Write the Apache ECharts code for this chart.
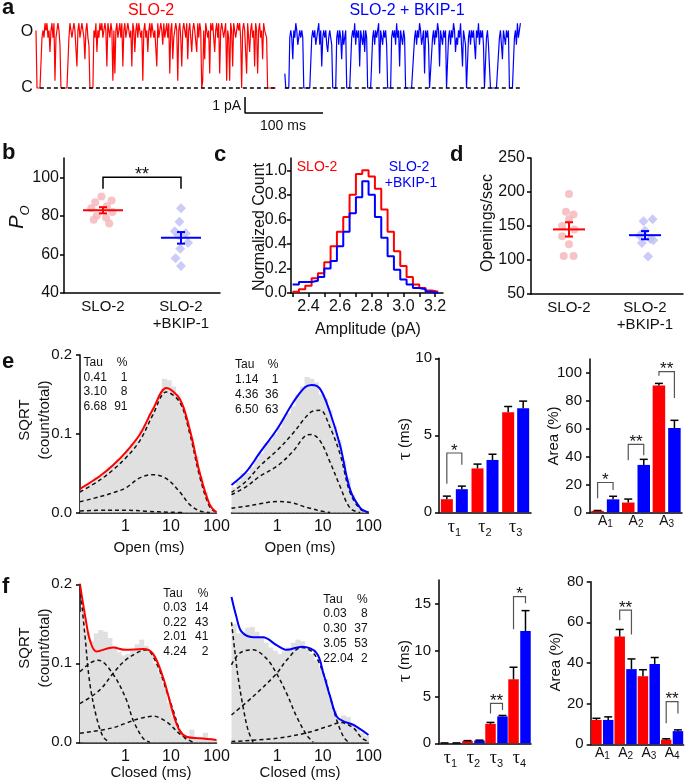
<!DOCTYPE html>
<html>
<head>
<meta charset="utf-8">
<title>SLO-2 / BKIP-1</title>
<script src="https://cdn.jsdelivr.net/npm/echarts@6.0.0/dist/echarts.min.js"></script>
<style>
  html, body { margin: 0; padding: 0; background: #fff; }
  #main { width: 685px; height: 783px; }
</style>
</head>
<body>
<div id="main"></div>
<script>
const FONT = 'Liberation Sans';
const RED = '#ff0000', BLUE = '#0000ff', GREY = '#e0e0e0';

// ---- a: single channel records, one digit per sample (0 = closed)
let redTrace = [
  '8000007879', '8978589791', '7898600000', '0007987898', '8389789874',
  '8976000087', '9587989789', '8398798182', '8978979389', '7898783985',
  '8979878189', '7858979878', '8397898697', '8979289478', '9818973898',
  '7948975898', '8597980184', '9878298975', '8979289878', '9187198398',
  '7898970898', '8297589783', '9828978498', '87000000000'
].join('');
let blueTrace = [
  '2000078748', '7986787870', '0000000787', '8678968378', '7865787600',
  '0078687486', '7800000787', '9687838768', '5870000078', '6878928768',
  '7860000787', '8697838768', '7000000000', '7868798678', '2878600078',
  '6879838768', '7800786879', '8576879638', '7600786878', '6487968786',
  '0078630000', '0000078648', '7687800000', '7869789'
].join('');
let pAPerLevel = 0.45;
let sampleMs = 1.28;
let traceStartMs = [0, 319];
let baselineMs = [[5, 308], [319, 624]];
let scaleBarMs = [268, 368];
let scaleBarPA = [-0.56, -1.56];

// ---- b: open probability
let groupLabels = ['SLO-2', 'SLO-2\n+BKIP-1'];
let poRed = [90, 88, 87, 85, 84, 82, 80, 79, 78, 76];
let poRedJit = [-0.02, 0.11, -0.10, 0.05, -0.15, 0.12, -0.08, 0.04, -0.12, 0.08];
let poBlue = [84, 77, 72, 71, 70, 66, 63, 58, 54];
let poBlueJit = [0, -0.02, -0.08, 0.06, -0.03, 0.09, -0.01, -0.07, 0];
let poMean = [82.9, 68.6];
let poSem = [1.6, 3.0];
let poSig = [1, 2, 94, 100, 94];
let poTicks = [40, 60, 80, 100];

// ---- c: amplitude histogram
let ampEdges = [2.30, 2.34, 2.38, 2.42, 2.46, 2.50, 2.54, 2.58, 2.62, 2.66, 2.70, 2.74,
  2.78, 2.82, 2.86, 2.90, 2.94, 2.98, 3.02, 3.06, 3.10, 3.14, 3.18, 3.22];
let ampRed = [0.01, 0.03, 0.06, 0.12, 0.16, 0.25, 0.38, 0.50, 0.62, 0.80, 0.97, 1.00,
  0.95, 0.85, 0.68, 0.50, 0.34, 0.22, 0.13, 0.07, 0.04, 0.02, 0.01];
let ampBlue = [0.07, 0.09, 0.09, 0.10, 0.13, 0.20, 0.26, 0.38, 0.50, 0.65, 0.78, 0.91,
  0.80, 0.62, 0.45, 0.30, 0.19, 0.11, 0.07, 0.04, 0.03, 0.01, 0.00];
let ampTicks = [2.3, 2.4, 2.5, 2.6, 2.7, 2.8, 2.9, 3.0, 3.1, 3.2];
let ampLabels = [2.4, 2.6, 2.8, 3.0, 3.2];
let countTicks = [0, 0.2, 0.4, 0.6, 0.8, 1.0];

// ---- d: openings per second
let opsRed = [197, 171, 167, 160, 150, 145, 135, 123, 106, 106];
let opsRedJit = [0, -0.04, 0.06, 0, -0.09, 0.07, -0.09, 0, -0.07, 0.06];
let opsBlue = [160, 157, 143, 136, 131, 129, 125, 105];
let opsBlueJit = [0.10, -0.02, 0, -0.07, 0.07, 0.11, -0.04, 0.04];
let opsMean = [145, 136.5];
let opsSem = [10.5, 6];

// ---- e, f: dwell time histograms (log bins, ms)
let logEdges = [0.1, 0.126, 0.158, 0.2, 0.251, 0.316, 0.398, 0.501, 0.631, 0.794,
  1, 1.26, 1.58, 2, 2.51, 3.16, 3.98, 5.01, 6.31, 7.94,
  10, 12.6, 15.8, 20, 25.1, 31.6, 39.8, 50.1, 63.1, 79.4, 100];
let eRedGray = [0.028, 0.036, 0.037, 0.045, 0.046, 0.052, 0.058, 0.060, 0.068, 0.072,
  0.080, 0.088, 0.092, 0.105, 0.112, 0.126, 0.133, 0.150, 0.170, 0.168,
  0.160, 0.150, 0.135, 0.118, 0.094, 0.072, 0.046, 0.026, 0.010, 0.003];
let eBlueGray = [0.032, 0.040, 0.050, 0.050, 0.058, 0.068, 0.075, 0.088, 0.092, 0.100,
  0.108, 0.120, 0.126, 0.135, 0.150, 0.160, 0.172, 0.170, 0.165, 0.150,
  0.145, 0.130, 0.110, 0.092, 0.066, 0.044, 0.022, 0.010, 0.004, 0.002];
let fRedGray = [0.165, 0.140, 0.128, 0.138, 0.142, 0.140, 0.132, 0.122, 0.114, 0.110,
  0.112, 0.116, 0.124, 0.130, 0.122, 0.112, 0.100, 0.088, 0.072, 0.050,
  0.032, 0.018, 0.010, 0.008, 0.016, 0.005, 0.004, 0.012, 0.003, 0.003];
let fBlueGray = [0.150, 0.138, 0.140, 0.145, 0.146, 0.140, 0.132, 0.126, 0.120, 0.116,
  0.112, 0.115, 0.120, 0.126, 0.130, 0.128, 0.120, 0.112, 0.104, 0.094,
  0.080, 0.058, 0.040, 0.030, 0.034, 0.032, 0.024, 0.018, 0.012, 0.008];

// fitted curves, [ms, sqrt(count/total)]
let eRedSum = [[0.1, 0.030], [0.27, 0.046], [0.53, 0.060], [1, 0.076], [2.06, 0.099], [4, 0.131],
  [7.9, 0.158], [15.6, 0.144], [25.9, 0.105], [43, 0.050], [71, 0.010], [100, 0]];
let eRedC3 = [[0.1, 0.026], [0.27, 0.041], [0.53, 0.054], [1, 0.069], [2.06, 0.091], [4, 0.124],
  [7.9, 0.153], [15.6, 0.140], [25.9, 0.100], [43, 0.045], [71, 0.007], [100, 0]];
let eRedC2 = [[0.1, 0.0136], [0.27, 0.020], [0.53, 0.025], [1, 0.031], [2.06, 0.044], [4, 0.048],
  [7.9, 0.043], [15.6, 0.026], [25.9, 0.010], [43, 0.002], [71, 0]];
let eRedC1 = [[0.1, 0.002], [0.4, 0.003], [1, 0.003], [3, 0.0015], [10, 0.0003], [20, 0]];

let eBlueSum = [[0.1, 0.035], [0.212, 0.052], [0.417, 0.076], [1, 0.106], [2.25, 0.140], [4.06, 0.159],
  [5.7, 0.162], [8.7, 0.157], [14.4, 0.127], [23.9, 0.085], [39.6, 0.029], [65.8, 0.006], [100, 0]];
let eBlueC3 = [[0.1, 0.0255], [0.212, 0.040], [0.417, 0.059], [1, 0.079], [2.25, 0.101], [4.06, 0.120],
  [5.7, 0.128], [8.7, 0.130], [14.4, 0.108], [23.9, 0.074], [39.6, 0.025], [65.8, 0.0045], [100, 0]];
let eBlueC2 = [[0.1, 0.0226], [0.212, 0.033], [0.417, 0.046], [1, 0.059], [2.25, 0.078], [4.06, 0.097],
  [5.7, 0.099], [8.7, 0.091], [14.4, 0.064], [23.9, 0.033], [39.6, 0.0055], [65.8, 0]];
let eBlueC1 = [[0.1, 0.0055], [0.212, 0.008], [0.417, 0.011], [1, 0.014], [2.25, 0.012], [4.06, 0.007],
  [5.7, 0.005], [8.7, 0.002], [14.4, 0]];

let fRedSum = [[0.1, 0.200], [0.134, 0.155], [0.164, 0.130], [0.23, 0.115], [0.53, 0.120], [1, 0.117],
  [2.44, 0.118], [4.04, 0.112], [6.7, 0.082], [9.4, 0.052], [12.1, 0.030], [15.6, 0.0145],
  [21.9, 0.007], [43, 0.005], [100, 0.003]];
let fRedC1 = [[0.1, 0.197], [0.127, 0.138], [0.164, 0.075], [0.23, 0.032], [0.322, 0.007], [0.45, 0]];
let fRedC2 = [[0.1, 0.0895], [0.164, 0.100], [0.25, 0.104], [0.53, 0.0865], [1.05, 0.0536], [1.47, 0.028],
  [2.44, 0.005], [3.42, 0]];
let fRedC3 = [[0.1, 0.049], [0.27, 0.066], [0.53, 0.087], [1, 0.104], [2.06, 0.115], [2.89, 0.117],
  [4.8, 0.100], [7.9, 0.066], [11.1, 0.041], [15.6, 0.0156], [21.9, 0.003]];
let fRedC4 = [[0.1, 0.0114], [0.5, 0.018], [1, 0.024], [2, 0.030], [4, 0.033], [8, 0.026], [16, 0.010], [30, 0]];

let fBlueSum = [[0.1, 0.184], [0.128, 0.159], [0.166, 0.140], [0.297, 0.133], [0.49, 0.133], [0.97, 0.123],
  [1.61, 0.117], [3.44, 0.121], [7.3, 0.113], [10.3, 0.087], [14.4, 0.058], [20.2, 0.0325],
  [28.3, 0.0266], [46.8, 0.022], [100, 0.0093]];
let fBlueC1 = [[0.1, 0.152], [0.118, 0.116], [0.139, 0.083], [0.179, 0.045], [0.23, 0.0156], [0.297, 0]];
let fBlueC2 = [[0.1, 0.098], [0.151, 0.113], [0.297, 0.117], [0.585, 0.106], [0.97, 0.087], [1.61, 0.062],
  [2.67, 0.0325], [4.43, 0.0093], [6.2, 0]];
let fBlueC3 = [[0.1, 0.0346], [0.297, 0.058], [0.97, 0.087], [1.61, 0.104], [3.44, 0.120], [6.2, 0.113],
  [10.3, 0.087], [14.4, 0.058], [20.2, 0.028], [28.3, 0.007], [36.4, 0]];
let fBlueC4 = [[0.1, 0.001], [0.97, 0.005], [4.43, 0.012], [14.4, 0.021], [24, 0.025], [46.8, 0.018],
  [72, 0.005], [100, 0.001]];

let eRedTau = ['0.41', '3.10', '6.68'], eRedPct = [1, 8, 91];
let eBlueTau = ['1.14', '4.36', '6.50'], eBluePct = [1, 36, 63];
let fRedTau = ['0.03', '0.22', '2.01', '4.24'], fRedPct = [14, 43, 41, 2];
let fBlueTau = ['0.03', '0.30', '3.05', '22.04'], fBluePct = [8, 37, 53, 2];

// ---- e, f: time constants and areas, mean and SEM
let tau3 = ['1', '2', '3'], tau4 = ['1', '2', '3', '4'];
let eTauRed = [0.85, 2.85, 6.5], eTauRedErr = [0.2, 0.28, 0.37];
let eTauBlue = [1.5, 3.4, 6.75], eTauBlueErr = [0.2, 0.37, 0.47];
let eAreaRed = [1, 7, 91], eAreaRedErr = [0.3, 2.5, 1.5];
let eAreaBlue = [9.3, 34, 60.5], eAreaBlueErr = [2.2, 4, 5.5];
let fTauRed = [0.03, 0.25, 2.1, 6.9], fTauRedErr = [0.01, 0.04, 0.15, 1.3];
let fTauBlue = [0.03, 0.3, 2.9, 12.1], fTauBlueErr = [0.01, 0.04, 0.1, 2.2];
let fAreaRed = [12, 53, 33.5, 2.3], fAreaRedErr = [0.8, 3.5, 3.2, 0.4];
let fAreaBlue = [12, 37, 39.5, 6.5], fAreaBlueErr = [1.5, 5, 3.2, 0.6];
// significance brackets: [category, left foot, top, right foot, stars]
let eTauSig = [[0, 1.85, 3.85, 3.09, '*']];
let eAreaSig = [[0, 10, 21.4, 16, '*'], [1, 37.4, 48.8, 41, '**'], [2, 98, 101, 82, '**']];
let fTauSig = [[2, 3.2, 4.3, 3.6, '**'], [3, 12.3, 15.8, 15.1, '*']];
let fAreaSig = [[1, 61, 66, 54, '**'], [3, 10.3, 21, 15.2, '**']];

// ------------------------------------------------------------------
let chart = echarts.init(document.getElementById('main'));
let grids = [], xAxes = [], yAxes = [], series = [];

let blackLine = {show: true, lineStyle: {color: '#000', width: 1.5}};
function outTick(extra) {
    return Object.assign({show: true, length: 4, lineStyle: {color: '#000', width: 1.5}}, extra || {});
}
function lab(size, extra) {
    return Object.assign({color: '#111', fontSize: size, fontFamily: FONT}, extra || {});
}
function addGrid(box, xa, ya) {
    let i = grids.length;
    grids.push(box);
    xAxes.push(Object.assign({gridIndex: i, splitLine: {show: false}}, xa));
    yAxes.push(Object.assign({gridIndex: i, splitLine: {show: false}}, ya));
    return i;
}
function txt(x, y, text, o) {
    o = o || {};
    let st = {
        text: text, fill: o.color || '#111', fontSize: o.size || 15, fontFamily: o.family || FONT,
        fontWeight: o.weight || 'normal', fontStyle: o.italic ? 'italic' : 'normal',
        align: o.align || 'center', textAlign: o.align || 'center',
        verticalAlign: o.va || 'middle', textVerticalAlign: o.va || 'middle'
    };
    if (o.lh) st.lineHeight = o.lh;
    if (o.rich) st.rich = o.rich;
    return {type: 'text', x: x, y: y, rotation: o.rot ? Math.PI / 2 : 0, style: st, silent: true};
}

// renderers
function meanRender(color, half) {
    return function (params, api) {
        let x = api.value(0), m = api.value(1), e = api.value(2);
        let c = api.coord([x, m]), t = api.coord([x, m + e]), b = api.coord([x, m - e]);
        let st = {stroke: color, lineWidth: 2};
        return {type: 'group', children: [
            {type: 'line', shape: {x1: c[0] - half, y1: c[1], x2: c[0] + half, y2: c[1]}, style: st},
            {type: 'line', shape: {x1: c[0], y1: t[1], x2: c[0], y2: b[1]}, style: st},
            {type: 'line', shape: {x1: c[0] - 4, y1: t[1], x2: c[0] + 4, y2: t[1]}, style: st},
            {type: 'line', shape: {x1: c[0] - 4, y1: b[1], x2: c[0] + 4, y2: b[1]}, style: st}
        ]};
    };
}
function pairSigRender(stars) {
    return function (params, api) {
        let l = api.coord([api.value(0), api.value(2)]), t = api.coord([api.value(0), api.value(3)]);
        let r = api.coord([api.value(1), api.value(4)]);
        return {type: 'group', children: [
            {type: 'polyline', shape: {points: [[l[0], l[1]], [l[0], t[1]], [r[0], t[1]], [r[0], r[1]]]},
                style: {stroke: '#000', lineWidth: 1.5, fill: null}},
            txt((l[0] + r[0]) / 2, t[1] - 2, stars, {size: 18})
        ]};
    };
}
function errRender(offset) {
    return function (params, api) {
        let c = api.coord([api.value(0), api.value(1)]);
        let t = api.coord([api.value(0), api.value(1) + api.value(2)]);
        let x = c[0] + offset, st = {stroke: '#000', lineWidth: 1.5};
        return {type: 'group', children: [
            {type: 'line', shape: {x1: x, y1: c[1], x2: x, y2: t[1]}, style: st},
            {type: 'line', shape: {x1: x - 4, y1: t[1], x2: x + 4, y2: t[1]}, style: st}
        ]};
    };
}
function barSigRender(offset, rows) {
    return function (params, api) {
        let cat = api.value(0);
        let l = api.coord([cat, api.value(1)]), t = api.coord([cat, api.value(2)]), r = api.coord([cat, api.value(3)]);
        let xl = l[0] - offset, xr = l[0] + offset;
        return {type: 'group', children: [
            {type: 'polyline', shape: {points: [[xl, l[1]], [xl, t[1]], [xr, t[1]], [xr, r[1]]]},
                style: {stroke: '#555', lineWidth: 1.2, fill: null}},
            txt((xl + xr) / 2, t[1] - 2, rows[params.dataIndex][4], {size: 17})
        ]};
    };
}
function grayRender(params, api) {
    let a = api.coord([api.value(0), api.value(2)]), b = api.coord([api.value(1), 0]);
    return {type: 'rect', shape: {x: a[0], y: a[1], width: b[0] - a[0] + 0.6, height: b[1] - a[1]},
        style: {fill: GREY}};
}

// ---- a
let gA = addGrid({left: 36, top: 22, width: 487, height: 103},
    {type: 'value', min: 0, max: 624.4, show: false},
    {type: 'value', min: -2.3125, max: 4.125, show: false});
function traceData(str, t0) {
    return str.split('').map((c, i) => [t0 + i * sampleMs, Number(c) * pAPerLevel]);
}
[[redTrace, RED], [blueTrace, BLUE]].forEach(function (tr, k) {
    series.push({type: 'line', xAxisIndex: gA, yAxisIndex: gA, data: traceData(tr[0], traceStartMs[k]),
        symbol: 'none', lineStyle: {color: tr[1], width: 1.2}, z: 2, silent: true});
    series.push({type: 'line', xAxisIndex: gA, yAxisIndex: gA,
        data: [[baselineMs[k][0], 0], [baselineMs[k][1], 0]],
        symbol: 'none', lineStyle: {color: '#000', width: 1.5, type: [4, 3]}, z: 3, silent: true});
});
series.push({type: 'line', xAxisIndex: gA, yAxisIndex: gA,
    data: [[scaleBarMs[0], scaleBarPA[0]], [scaleBarMs[0], scaleBarPA[1]], [scaleBarMs[1], scaleBarPA[1]]],
    symbol: 'none', lineStyle: {color: '#000', width: 1.5}, silent: true});

// ---- b
function groupAxis() {
    return {type: 'value', min: 0.5, max: 2.5, axisLine: blackLine, axisTick: {show: false},
        axisLabel: lab(15, {customValues: [1, 2], formatter: v => groupLabels[Math.round(v) - 1],
            lineHeight: 17, margin: 5})};
}
let gB = addGrid({left: 64, top: 158, width: 156, height: 135}, groupAxis(),
    {type: 'value', min: 40, max: 110, axisLine: blackLine, axisTick: outTick({customValues: poTicks}),
        axisLabel: lab(16, {customValues: poTicks, margin: 5})});
function scatterPair(g, red, redJit, blue, blueJit, mean, sem, half) {
    series.push({type: 'scatter', xAxisIndex: g, yAxisIndex: g, data: red.map((v, i) => [1 + redJit[i], v]),
        symbol: 'circle', symbolSize: 8, itemStyle: {color: '#f6b4b8'}, z: 2, silent: true});
    series.push({type: 'scatter', xAxisIndex: g, yAxisIndex: g, data: blue.map((v, i) => [2 + blueJit[i], v]),
        symbol: 'diamond', symbolSize: 10, itemStyle: {color: '#bebef5'}, z: 2, silent: true});
    series.push({type: 'custom', xAxisIndex: g, yAxisIndex: g, data: [[1, mean[0], sem[0]]],
        renderItem: meanRender(RED, half), z: 4, silent: true});
    series.push({type: 'custom', xAxisIndex: g, yAxisIndex: g, data: [[2, mean[1], sem[1]]],
        renderItem: meanRender(BLUE, half), z: 4, silent: true});
}
scatterPair(gB, poRed, poRedJit, poBlue, poBlueJit, poMean, poSem, 20);
series.push({type: 'custom', xAxisIndex: gB, yAxisIndex: gB, data: [poSig],
    renderItem: pairSigRender('**'), z: 4, silent: true});

// ---- c
let gC = addGrid({left: 291, top: 158, width: 152, height: 135},
    {type: 'value', min: 2.29, max: 3.25, axisLine: blackLine, axisTick: outTick({customValues: ampTicks}),
        axisLabel: lab(16, {customValues: ampLabels, formatter: v => v.toFixed(1), margin: 6})},
    {type: 'value', min: 0, max: 1.1, axisLine: blackLine, axisTick: outTick({customValues: countTicks}),
        axisLabel: lab(16, {customValues: countTicks, formatter: v => v.toFixed(1), margin: 4})});
function stepData(edges, vals) {
    return edges.map((e, i) => [e, vals[Math.min(i, vals.length - 1)]]);
}
series.push({type: 'line', xAxisIndex: gC, yAxisIndex: gC, data: stepData(ampEdges, ampRed), step: 'end',
    symbol: 'none', lineStyle: {color: RED, width: 2}, silent: true});
series.push({type: 'line', xAxisIndex: gC, yAxisIndex: gC, data: stepData(ampEdges, ampBlue), step: 'end',
    symbol: 'none', lineStyle: {color: BLUE, width: 2}, silent: true});

// ---- d
let gD = addGrid({left: 531, top: 158, width: 152, height: 136}, groupAxis(),
    {type: 'value', min: 50, max: 250, interval: 50, axisLine: blackLine, axisTick: outTick(),
        axisLabel: lab(16, {margin: 6})});
scatterPair(gD, opsRed, opsRedJit, opsBlue, opsBlueJit, opsMean, opsSem, 16);

// ---- e, f histograms
function histGrid(box, showY) {
    return addGrid(box,
        {type: 'log', logBase: 10, min: 0.1, max: 100, axisLine: blackLine, axisTick: {show: false},
            axisLabel: lab(16, {formatter: v => (v < 0.5 ? '' : String(v)), margin: 6})},
        showY ? {type: 'value', min: 0, max: 0.2, interval: 0.1, axisLine: blackLine, axisTick: outTick(),
                axisLabel: lab(15, {formatter: v => v.toFixed(1), margin: 8})}
              : {type: 'value', min: 0, max: 0.2, show: false});
}
function histSeries(g, gray, comps, sum, color) {
    series.push({type: 'custom', xAxisIndex: g, yAxisIndex: g,
        data: gray.map((h, i) => [logEdges[i], logEdges[i + 1], h]),
        encode: {x: [0, 1], y: 2}, renderItem: grayRender, z: 1, silent: true});
    comps.forEach(function (c) {
        series.push({type: 'line', xAxisIndex: g, yAxisIndex: g, data: c, smooth: 0.35, symbol: 'none',
            lineStyle: {color: '#111', width: 1.5, type: [4, 3]}, z: 3, silent: true});
    });
    series.push({type: 'line', xAxisIndex: g, yAxisIndex: g, data: sum, smooth: 0.35, symbol: 'none',
        lineStyle: {color: color, width: 2}, z: 4, silent: true});
}
let gE1 = histGrid({left: 80, top: 355, width: 136.5, height: 157.5}, true);
let gE2 = histGrid({left: 231.5, top: 355, width: 137, height: 157.5}, false);
let gF1 = histGrid({left: 80, top: 584.3, width: 136.5, height: 158}, true);
let gF2 = histGrid({left: 231.5, top: 584.3, width: 137, height: 158}, false);
histSeries(gE1, eRedGray, [eRedC1, eRedC2, eRedC3], eRedSum, RED);
histSeries(gE2, eBlueGray, [eBlueC1, eBlueC2, eBlueC3], eBlueSum, BLUE);
histSeries(gF1, fRedGray, [fRedC1, fRedC2, fRedC3, fRedC4], fRedSum, RED);
histSeries(gF2, fBlueGray, [fBlueC1, fBlueC2, fBlueC3, fBlueC4], fBlueSum, BLUE);

// ---- e, f bar charts
let tauRich = {
    t: {fontFamily: 'Liberation Serif', fontSize: 18, lineHeight: 22, color: '#111'},
    s: {fontFamily: FONT, fontSize: 11, lineHeight: 11, verticalAlign: 'bottom', color: '#111'}
};
let areaRich = {
    t: {fontFamily: FONT, fontSize: 14, lineHeight: 16, color: '#111'},
    s: {fontFamily: FONT, fontSize: 10, lineHeight: 8, verticalAlign: 'bottom', color: '#111'}
};
function barGrid(box, cats, isTau, yOpt) {
    return addGrid(box,
        {type: 'category', data: cats, axisLine: blackLine, axisTick: {show: false},
            axisLabel: {interval: 0, formatter: v => '{t|' + (isTau ? 'τ' : 'A') + '}{s|' + v + '}',
                rich: isTau ? tauRich : areaRich, margin: isTau ? 4 : 1}},
        Object.assign({type: 'value', axisLine: blackLine}, yOpt));
}
function barSet(g, red, redErr, blue, blueErr, sig, w, gap) {
    let off = (w + w * gap) / 2;
    series.push({type: 'bar', xAxisIndex: g, yAxisIndex: g, data: red, barWidth: w, barGap: (gap * 100) + '%',
        itemStyle: {color: RED}, z: 2, silent: true});
    series.push({type: 'bar', xAxisIndex: g, yAxisIndex: g, data: blue, barWidth: w, barGap: (gap * 100) + '%',
        itemStyle: {color: BLUE}, z: 2, silent: true});
    series.push({type: 'custom', xAxisIndex: g, yAxisIndex: g, data: red.map((v, i) => [i, v, redErr[i]]),
        renderItem: errRender(-off), z: 3, silent: true});
    series.push({type: 'custom', xAxisIndex: g, yAxisIndex: g, data: blue.map((v, i) => [i, v, blueErr[i]]),
        renderItem: errRender(off), z: 3, silent: true});
    series.push({type: 'custom', xAxisIndex: g, yAxisIndex: g, data: sig.map(r => [r[0], r[1], r[2], r[3]]),
        renderItem: barSigRender(off, sig), z: 4, silent: true});
}
let gE3 = barGrid({left: 439, top: 358.3, width: 92, height: 154}, tau3, true,
    {min: 0, max: 10, interval: 5, axisTick: outTick(), axisLabel: lab(15, {margin: 7})});
let gE4 = barGrid({left: 590, top: 359, width: 92, height: 153.3}, tau3, false,
    {min: 0, max: 110, axisTick: outTick({customValues: [0, 20, 40, 60, 80, 100]}),
        axisLabel: lab(15, {customValues: [0, 20, 40, 60, 80, 100], margin: 8})});
let gF3 = barGrid({left: 439, top: 580, width: 92, height: 163.3}, tau4, true,
    {min: 0, max: 17.6, axisTick: outTick({customValues: [0, 5, 10, 15]}),
        axisLabel: lab(15, {customValues: [0, 5, 10, 15], margin: 8})});
let gF4 = barGrid({left: 590.7, top: 581.7, width: 93, height: 162.6}, tau4, false,
    {min: 0, max: 80, interval: 20, axisTick: outTick(), axisLabel: lab(15, {margin: 7})});
barSet(gE3, eTauRed, eTauRedErr, eTauBlue, eTauBlueErr, eTauSig, 12, 0.25);
barSet(gE4, eAreaRed, eAreaRedErr, eAreaBlue, eAreaBlueErr, eAreaSig, 12.5, 0.24);
barSet(gF3, fTauRed, fTauRedErr, fTauBlue, fTauBlueErr, fTauSig, 10.5, 0.14);
barSet(gF4, fAreaRed, fAreaRedErr, fAreaBlue, fAreaBlueErr, fAreaSig, 10.5, 0.12);

// ---- texts
function table(x, xr, y, taus, pcts, lh) {
    return [
        txt(x, y, ['Tau'].concat(taus).join('\n'), {size: 12, lh: lh, align: 'left', va: 'top'}),
        txt(xr, y, ['%'].concat(pcts).join('\n'), {size: 12, lh: lh, align: 'right', va: 'top'})
    ];
}
let tauName = {t: {fontFamily: 'Liberation Serif', fontSize: 19, color: '#111'},
    n: {fontFamily: FONT, fontSize: 15, color: '#111'}};
let texts = [
    txt(2, 8, 'a', {size: 22, weight: 'bold', align: 'left'}),
    txt(2, 153, 'b', {size: 22, weight: 'bold', align: 'left'}),
    txt(214, 155, 'c', {size: 22, weight: 'bold', align: 'left'}),
    txt(450, 155, 'd', {size: 22, weight: 'bold', align: 'left'}),
    txt(2, 362, 'e', {size: 22, weight: 'bold', align: 'left'}),
    txt(2, 587, 'f', {size: 22, weight: 'bold', align: 'left'}),
    txt(151, 11, 'SLO-2', {size: 16, color: RED}),
    txt(407, 11, 'SLO-2 + BKIP-1', {size: 16, color: BLUE}),
    txt(27, 32, 'O', {size: 16}),
    txt(27, 88, 'C', {size: 16}),
    txt(241, 106, '1 pA', {size: 14, align: 'right'}),
    txt(283, 126, '100 ms', {size: 14}),
    txt(17.5, 217, '{p|P}{o|O}', {rot: true, rich: {
        p: {fontSize: 20, fontStyle: 'italic', fontFamily: FONT, lineHeight: 28, color: '#111'},
        o: {fontSize: 13, fontStyle: 'italic', fontFamily: FONT, lineHeight: 13, verticalAlign: 'bottom', color: '#111'}}}),
    txt(317, 167, 'SLO-2', {size: 14, color: RED}),
    txt(409, 167, 'SLO-2', {size: 14, color: BLUE}),
    txt(411, 183, '+BKIP-1', {size: 14, color: BLUE}),
    txt(260, 227, 'Normalized Count', {size: 16, rot: true}),
    txt(368, 330, 'Amplitude (pA)', {size: 16}),
    txt(488, 223, 'Openings/sec', {size: 16, rot: true}),
    txt(35, 420, 'SQRT\n(count/total)', {size: 15, lh: 20, rot: true}),
    txt(35, 648, 'SQRT\n(count/total)', {size: 15, lh: 20, rot: true}),
    txt(149, 548, 'Open (ms)', {size: 15}),
    txt(300, 548, 'Open (ms)', {size: 15}),
    txt(151, 773, 'Closed (ms)', {size: 15}),
    txt(300, 773, 'Closed (ms)', {size: 15}),
    txt(405, 439, '{t|τ}{n| (ms)}', {rot: true, rich: tauName}),
    txt(405, 661, '{t|τ}{n| (ms)}', {rot: true, rich: tauName}),
    txt(554, 436, 'Area (%)', {size: 15, rot: true}),
    txt(556, 662, 'Area (%)', {size: 15, rot: true})
].concat(
    table(83.5, 127.5, 355.5, eRedTau, eRedPct, 14.5),
    table(235, 278.3, 356.8, eBlueTau, eBluePct, 15),
    table(163.3, 208.3, 586, fRedTau, fRedPct, 14.6),
    table(323.3, 367.7, 592, fBlueTau, fBluePct, 14.75)
);

let option = {
    animation: false,
    backgroundColor: '#fff',
    textStyle: {fontFamily: FONT},
    grid: grids,
    xAxis: xAxes,
    yAxis: yAxes,
    series: series,
    graphic: {elements: texts}
};
chart.setOption(option);
window.onresize = chart.resize;
</script>
</body>
</html>
